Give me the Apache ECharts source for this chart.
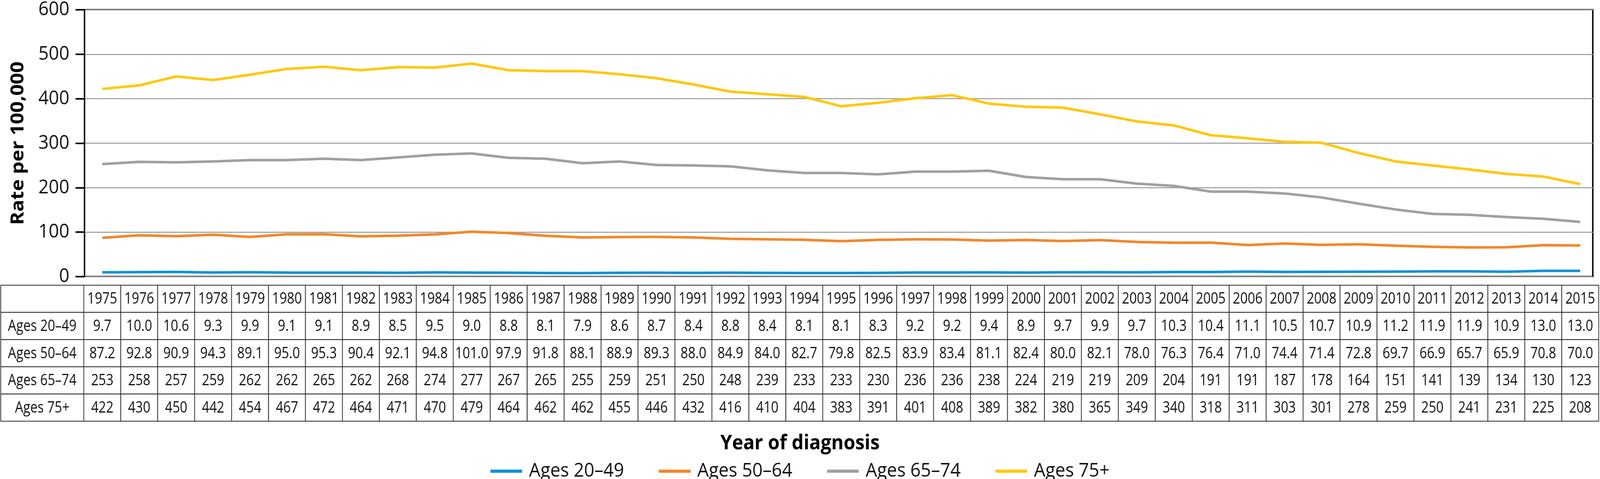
<!DOCTYPE html>
<html>
<head>
<meta charset="utf-8">
<script src="https://cdn.jsdelivr.net/npm/echarts@6/dist/echarts.min.js"></script>
<style>
html,body{margin:0;padding:0;background:#fff;overflow:hidden;}
#chart{width:4430px;height:1226px;transform-origin:0 0;}
</style>
</head>
<body>
<div id="chart"></div>
<script>
const years = [1975,1976,1977,1978,1979,1980,1981,1982,1983,1984,1985,1986,1987,1988,1989,1990,1991,1992,1993,1994,1995,1996,1997,1998,1999,2000,2001,2002,2003,2004,2005,2006,2007,2008,2009,2010,2011,2012,2013,2014,2015];
const seriesNames = ['Ages 20\u201349','Ages 50\u201364','Ages 65\u201374','Ages 75+'];
const ages20_49 = [9.7,10.0,10.6,9.3,9.9,9.1,9.1,8.9,8.5,9.5,9.0,8.8,8.1,7.9,8.6,8.7,8.4,8.8,8.4,8.1,8.1,8.3,9.2,9.2,9.4,8.9,9.7,9.9,9.7,10.3,10.4,11.1,10.5,10.7,10.9,11.2,11.9,11.9,10.9,13.0,13.0];
const ages50_64 = [87.2,92.8,90.9,94.3,89.1,95.0,95.3,90.4,92.1,94.8,101.0,97.9,91.8,88.1,88.9,89.3,88.0,84.9,84.0,82.7,79.8,82.5,83.9,83.4,81.1,82.4,80.0,82.1,78.0,76.3,76.4,71.0,74.4,71.4,72.8,69.7,66.9,65.7,65.9,70.8,70.0];
const ages65_74 = [253,258,257,259,262,262,265,262,268,274,277,267,265,255,259,251,250,248,239,233,233,230,236,236,238,224,219,219,209,204,191,191,187,178,164,151,141,139,134,130,123];
const ages75p = [422,430,450,442,454,467,472,464,471,470,479,464,462,462,455,446,432,416,410,404,383,391,401,408,389,382,380,365,349,340,318,311,303,301,278,259,250,241,231,225,208];
const decimals = [1,1,0,0];
const yTicks = {min:0, max:600, interval:100};
const yTitle = 'Rate per 100,000';
const xTitle = 'Year of diagnosis';

const DESIGN_W = 4430, DESIGN_H = 1226;
const dom = document.getElementById('chart');
const sx = (window.innerWidth || DESIGN_W) / DESIGN_W;
dom.style.transform = 'scale(' + sx + ',1)';

const allSeries = [ages20_49, ages50_64, ages65_74, ages75p];
const colors = ['#0a93d6','#f4862a','#a0a0a0','#fec80c'];
const FONT = "'Open Sans', 'Noto Sans', sans-serif";

const rowKeys = ['header'].concat(seriesNames);
const cellData = [], cellText = [];
years.forEach((y) => { cellData.push([y, 0]); cellText.push(String(y)); });
allSeries.forEach((arr, s) => {
  arr.forEach((v, i) => { cellData.push([years[i], s + 1]); cellText.push(v.toFixed(decimals[s])); });
});
const labelData = rowKeys.map((k, r) => [years[0] - 0.5, r]);
const labelText = [''].concat(seriesNames);

const xMin = 1974.52, xMax = 2015.34;
const TABLE_LEFT = 2;
const CELL_FONT = 41, CELL_SX = 0.88;

function textEl(str, x, y) {
  return {type:'text', x:x, y:y, scaleX:CELL_SX,
    style:{text:str, x:0, y:0, align:'center', verticalAlign:'middle', fontSize:CELL_FONT, fontFamily:FONT, fill:'#111'}};
}
function cellRender(params, api) {
  const p = api.coord([api.value(0), api.value(1)]);
  const sz = api.size([1, 1]);
  const w = sz[0], h = sz[1];
  return {type:'group', children:[
    {type:'rect', shape:{x:p[0]-w/2, y:p[1]-h/2, width:w, height:h}, style:{fill:'#fff', stroke:'#2a2a2a', lineWidth:2}},
    textEl(cellText[params.dataIndex], p[0], p[1] + 1)
  ]};
}
function labelRender(params, api) {
  const p = api.coord([api.value(0), api.value(1)]);
  const h = api.size([1, 1])[1];
  const w = p[0] - TABLE_LEFT;
  return {type:'group', children:[
    {type:'rect', shape:{x:TABLE_LEFT, y:p[1]-h/2, width:w, height:h}, style:{fill:'#fff', stroke:'#2a2a2a', lineWidth:2}},
    textEl(labelText[params.dataIndex], TABLE_LEFT + w/2, p[1] + 1)
  ]};
}

const chart = echarts.init(dom, null, {renderer:'canvas', width:DESIGN_W, height:DESIGN_H});
const option = {
  backgroundColor: '#fff',
  animation: false,
  color: colors,
  textStyle: {fontFamily: FONT},
  title: {
    text: xTitle, left: 'center', top: 1104,
    textStyle: {fontSize: 52, fontWeight: 'bold', color: '#000', fontFamily: FONT}
  },
  legend: {
    data: seriesNames, left: 'center', top: 1176,
    icon: 'rect', itemWidth: 88, itemHeight: 8, itemGap: 96,
    textStyle: {fontSize: 50, color: '#111', fontFamily: FONT, padding: [0,0,0,14]}
  },
  grid: [
    {left: 234, right: 20, top: 21, bottom: 518, show: true, borderColor: '#000', borderWidth: 4, containLabel: false},
    {left: 234, right: 20, top: 730, height: 348, show: false, containLabel: false}
  ],
  xAxis: [
    {type:'value', gridIndex:0, min:xMin, max:xMax, axisLine:{show:false}, axisTick:{show:false}, axisLabel:{show:false}, splitLine:{show:false}},
    {type:'value', gridIndex:1, min:xMin, max:xMax, axisLine:{show:false}, axisTick:{show:false}, axisLabel:{show:false}, splitLine:{show:false}}
  ],
  yAxis: [
    {type:'value', gridIndex:0, min:yTicks.min, max:yTicks.max, interval:yTicks.interval,
     name: yTitle, nameLocation:'middle', nameRotate:90, nameGap:158,
     nameTextStyle:{fontSize:51, fontWeight:'bold', color:'#000', fontFamily:FONT},
     axisLine:{show:true, lineStyle:{color:'#000', width:4}},
     axisTick:{show:true, inside:false, length:25, lineStyle:{color:'#000', width:4}},
     axisLabel:{fontSize:50, color:'#111', margin:42, fontFamily:FONT},
     splitLine:{show:true, lineStyle:{color:'#a8a8a8', width:3}}},
    {type:'category', gridIndex:1, data: rowKeys, inverse:true, axisLine:{show:false}, axisTick:{show:false}, axisLabel:{show:false}, splitLine:{show:false}}
  ],
  series: seriesNames.map((name, s) => ({
    name, type:'line', xAxisIndex:0, yAxisIndex:0,
    data: allSeries[s].map((v, i) => [years[i], v]),
    symbol:'none', lineStyle:{width:6.5, color:colors[s], cap:'butt', join:'round'},
    itemStyle:{color:colors[s]}, z: 3
  })).concat([
    {type:'custom', name:'table', xAxisIndex:1, yAxisIndex:1, data: cellData, renderItem: cellRender, clip:false, silent:true},
    {type:'custom', name:'tableLabels', xAxisIndex:1, yAxisIndex:1, data: labelData, renderItem: labelRender, clip:false, silent:true}
  ])
};
chart.setOption(option);
</script>
</body>
</html>
